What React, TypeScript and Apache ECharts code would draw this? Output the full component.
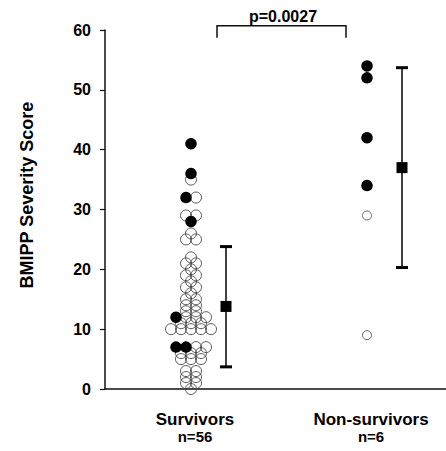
import { useEffect, useRef } from "react";
import * as echarts from "echarts";

// ---- data ----
const groupNames = ["Survivors", "Non-survivors"];
const groupCounts = ["n=56", "n=6"];
const survivorsFilled = [41, 36, 32, 28, 12, 7, 7];
const survivorsOpen = [
  35, 32, 29, 29, 26, 25, 25, 22, 21, 21, 20, 19, 19, 18, 17, 17, 16, 15, 15, 14, 14, 13, 13,
  12, 12, 12, 11, 11, 11, 10, 10, 10, 10, 10, 7, 7, 6, 6, 6, 5, 5, 5, 3, 3, 2, 2, 1, 1, 0,
];
const nonSurvivorsFilled = [54, 52, 42, 34];
const nonSurvivorsOpen = [29, 9];
const groupMeans = [13.8, 37.0];
const groupLower = [3.7, 20.3];
const groupUpper = [23.8, 53.7];
const yMin = 0;
const yMax = 60;
const yInterval = 10;
const pValueLabel = "p=0.0027";

// ---- layout (x axis in pixel-like units across the plot) ----
const X_RANGE = 341;
const DOT_CENTER = [86, 262];
const BAR_CENTER = [121, 297];
const DOT_STEP = 10;
const FONT = "'Liberation Sans', Arial, Helvetica, sans-serif";

type Pt = { v: number; filled: boolean };

function layoutGroup(filled: number[], open: number[], center: number) {
  const pts: Pt[] = [
    ...filled.map((v) => ({ v, filled: true })),
    ...open.map((v) => ({ v, filled: false })),
  ];
  const rows = new Map<number, Pt[]>();
  pts.forEach((p) => {
    if (!rows.has(p.v)) rows.set(p.v, []);
    rows.get(p.v)!.push(p);
  });
  const filledOut: number[][] = [];
  const openOut: number[][] = [];
  rows.forEach((row) => {
    row.sort((a, b) => (a.filled === b.filled ? 0 : a.filled ? -1 : 1));
    const n = row.length;
    row.forEach((p, i) => {
      const x = center + (i - (n - 1) / 2) * DOT_STEP;
      (p.filled ? filledOut : openOut).push([x, p.v]);
    });
  });
  return { filledOut, openOut };
}

export default function App() {
  const ref = useRef<HTMLDivElement>(null);

  useEffect(() => {
    if (!ref.current) return;
    const chart = echarts.init(ref.current, undefined, { renderer: "svg" });
    const s = layoutGroup(survivorsFilled, survivorsOpen, DOT_CENTER[0]);
    const n = layoutGroup(nonSurvivorsFilled, nonSurvivorsOpen, DOT_CENTER[1]);
    const barData = groupMeans.map((m, i) => [BAR_CENTER[i], groupLower[i], m, groupUpper[i]]);

    chart.setOption({
      animation: false,
      grid: { left: 105, right: 0, top: 30, bottom: 62 },
      xAxis: {
        type: "value",
        min: 0,
        max: X_RANGE,
        axisLine: { show: true, lineStyle: { color: "#111", width: 1.5 } },
        axisTick: { show: false },
        axisLabel: { show: false },
        splitLine: { show: false },
      },
      yAxis: {
        type: "value",
        min: yMin,
        max: yMax,
        interval: yInterval,
        axisLine: { show: true, lineStyle: { color: "#111", width: 1.5 } },
        axisTick: { show: true, length: 5, lineStyle: { color: "#111", width: 1.2 } },
        axisLabel: {
          margin: 14,
          color: "#000",
          fontSize: 16,
          fontWeight: "bold",
          fontFamily: FONT,
        },
        splitLine: { show: false },
      },
      series: [
        {
          type: "scatter",
          data: s.openOut,
          symbol: "circle",
          symbolSize: 11,
          itemStyle: { color: "rgba(255,255,255,0)", borderColor: "#444", borderWidth: 0.9, opacity: 1 },
          z: 2,
        },
        {
          type: "scatter",
          data: n.openOut,
          symbol: "circle",
          symbolSize: 9,
          itemStyle: { color: "rgba(255,255,255,0)", borderColor: "#555", borderWidth: 0.9, opacity: 1 },
          z: 2,
        },
        {
          type: "scatter",
          data: [...s.filledOut, ...n.filledOut],
          symbol: "circle",
          symbolSize: 11.5,
          itemStyle: { color: "#000", opacity: 1 },
          z: 3,
        },
        {
          type: "custom",
          data: barData,
          encode: { x: 0, y: 2 },
          z: 4,
          renderItem: (_params: any, api: any) => {
            const x = api.value(0);
            const pLo = api.coord([x, api.value(1)]);
            const pM = api.coord([x, api.value(2)]);
            const pHi = api.coord([x, api.value(3)]);
            return {
              type: "group",
              children: [
                {
                  type: "line",
                  shape: { x1: pLo[0], y1: pLo[1], x2: pHi[0], y2: pHi[1] },
                  style: { stroke: "#000", lineWidth: 1.5 },
                },
                {
                  type: "rect",
                  shape: { x: pHi[0] - 6, y: pHi[1] - 1.5, width: 12, height: 3 },
                  style: { fill: "#000" },
                },
                {
                  type: "rect",
                  shape: { x: pLo[0] - 6, y: pLo[1] - 1.5, width: 12, height: 3 },
                  style: { fill: "#000" },
                },
                {
                  type: "rect",
                  shape: { x: pM[0] - 5.5, y: pM[1] - 5.5, width: 11, height: 11 },
                  style: { fill: "#000" },
                },
              ],
            };
          },
        },
      ],
    });

    // annotations positioned through the chart's own scales
    const toPx = (x: number, y: number) => chart.convertToPixel({ gridIndex: 0 }, [x, y]) as number[];
    const bl = toPx(112, 58.7);
    const tl = toPx(112, 60.7);
    const tr = toPx(241, 60.7);
    const br = toPx(241, 58.7);
    const pt = toPx(178, 62.2);
    const labelPos = DOT_CENTER.map((c) => toPx(c + 4, 0)[0]);
    const baseY = toPx(0, 0)[1];

    chart.setOption({
      graphic: [
        {
          type: "polyline",
          shape: { points: [bl, tl, tr, br] },
          style: { stroke: "#111", lineWidth: 1.5, fill: "none" },
        },
        {
          type: "text",
          x: pt[0],
          y: pt[1],
          style: {
            text: pValueLabel,
            fill: "#000",
            font: `bold 16px ${FONT}`,
            textAlign: "center",
            textVerticalAlign: "middle",
          },
        },
        {
          type: "text",
          x: 27,
          y: 195,
          rotation: Math.PI / 2,
          style: {
            text: "BMIPP Severity Score",
            fill: "#000",
            font: `bold 18px ${FONT}`,
            textAlign: "center",
            textVerticalAlign: "middle",
          },
        },
        ...groupNames.map((name, i) => ({
          type: "text",
          x: i === 0 ? labelPos[0] : labelPos[1],
          y: baseY + 30,
          style: {
            text: name,
            fill: "#000",
            font: `bold 17px ${FONT}`,
            textAlign: "center",
            textVerticalAlign: "middle",
          },
        })),
        ...groupCounts.map((t, i) => ({
          type: "text",
          x: i === 0 ? labelPos[0] : labelPos[1],
          y: baseY + 47,
          style: {
            text: t,
            fill: "#000",
            font: `bold 15px ${FONT}`,
            textAlign: "center",
            textVerticalAlign: "middle",
          },
        })),
      ],
    });

    return () => chart.dispose();
  }, []);

  return (
    <div
      ref={ref}
      style={{ position: "fixed", left: 0, top: 0, width: 446, height: 451, background: "#fff" }}
    />
  );
}
